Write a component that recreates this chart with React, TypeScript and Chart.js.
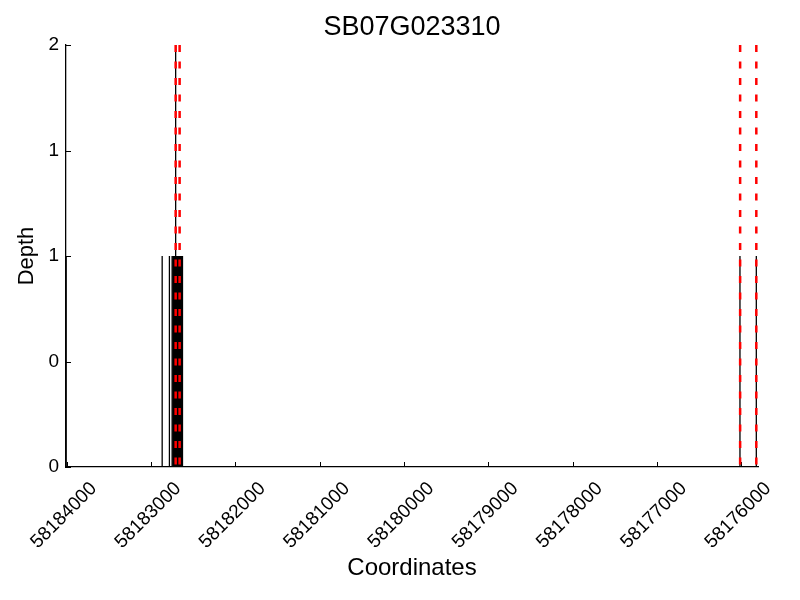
import React, { useEffect, useRef } from "react";
import { Chart, registerables } from "chart.js";

Chart.register(...registerables);

const TITLE = "SB07G023310";
const X_LABEL = "Coordinates";
const Y_LABEL = "Depth";

const X_MIN = 58175800;
const X_MAX = 58184010;
const xTickValues = [58176000, 58177000, 58178000, 58179000, 58180000, 58181000, 58182000, 58183000, 58184000];
const yTickValues = [0, 0.5, 1, 1.5, 2];
const yTickLabels = ["0", "0", "1", "1", "2"];

// read coverage bars (position, depth)
const coverageX = [
  58184008, 58182869, 58182783, 58182751,
  58182735, 58182725, 58182715, 58182709, 58182705, 58182695, 58182685,
  58182675, 58182665, 58182655, 58182645, 58182635, 58182628,
  58176014, 58175820,
];
const coverageDepth = [
  1, 1, 1, 1,
  1, 1, 1, 2, 1, 1, 1,
  1, 1, 1, 1, 1, 1,
  1, 1,
];

// red dashed marker positions
const markerX = [58182709, 58182662, 58176012, 58175820];

const FONT = "'Liberation Sans', Arial, Helvetica, sans-serif";

const inwardTicks = {
  id: "inwardTicks",
  beforeDatasetsDraw(chart: any) {
    const { ctx, chartArea, scales } = chart;
    const x = scales.x;
    const y = scales.y;
    ctx.save();
    ctx.strokeStyle = "#000";
    ctx.lineWidth = 1;
    ctx.beginPath();
    x.ticks.forEach((t: any) => {
      const px = Math.round(x.getPixelForValue(t.value)) + 0.5;
      ctx.moveTo(px, chartArea.bottom);
      ctx.lineTo(px, chartArea.bottom - 5);
    });
    y.ticks.forEach((t: any) => {
      const py = Math.round(y.getPixelForValue(t.value)) + 0.5;
      ctx.moveTo(chartArea.left, py);
      ctx.lineTo(chartArea.left + 5, py);
    });
    ctx.stroke();
    ctx.restore();
  },
};

export default function App() {
  const ref = useRef<HTMLCanvasElement | null>(null);

  useEffect(() => {
    if (!ref.current) return;
    Chart.defaults.font.family = FONT;
    Chart.defaults.color = "#000";

    const barPoints: any[] = [];
    coverageX.forEach((x, i) => {
      barPoints.push({ x, y: 0 }, { x, y: coverageDepth[i] }, { x, y: null });
    });
    const markerPoints: any[] = [];
    markerX.forEach((x) => {
      markerPoints.push({ x, y: 2 }, { x, y: 0 }, { x, y: null });
    });

    const chart = new Chart(ref.current, {
      type: "line",
      data: {
        datasets: [
          {
            label: "markers",
            data: markerPoints,
            borderColor: "#ff0000",
            borderWidth: 2.5,
            borderDash: [7, 9.5],
            pointRadius: 0,
            spanGaps: false,
            fill: false,
          },
          {
            label: "depth",
            data: barPoints,
            borderColor: "#000000",
            borderWidth: 1.3,
            pointRadius: 0,
            spanGaps: false,
            fill: false,
          },
        ],
      },
      options: {
        responsive: false,
        animation: false,
        events: [],
        layout: { padding: { left: 0, right: 34, top: 0, bottom: 0 } },
        plugins: {
          legend: { display: false },
          tooltip: { enabled: false },
          title: {
            display: true,
            fullSize: false,
            text: TITLE,
            color: "#000",
            font: { family: FONT, size: 27, weight: "normal" },
            padding: { top: 3, bottom: 1.6 },
          },
        },
        scales: {
          x: {
            type: "linear",
            reverse: true,
            min: X_MIN,
            max: X_MAX,
            grid: { display: false, drawTicks: false },
            border: { display: true, color: "#000", width: 1.3 },
            afterBuildTicks: (scale: any) => {
              scale.ticks = xTickValues.map((v) => ({ value: v }));
            },
            afterFit: (scale: any) => {
              scale.height = 125;
            },
            ticks: {
              autoSkip: false,
              minRotation: 45,
              maxRotation: 45,
              padding: 10.5,
              labelOffset: 27,
              color: "#000",
              font: { family: FONT, size: 19 },
              callback: (v: any) => String(v),
            },
            title: {
              display: true,
              text: X_LABEL,
              color: "#000",
              font: { family: FONT, size: 24 },
              padding: { top: 0, bottom: 9.6 },
            },
          },
          y: {
            type: "linear",
            min: 0,
            max: 2,
            grid: { display: false, drawTicks: false },
            border: { display: true, color: "#000", width: 1.3 },
            afterBuildTicks: (scale: any) => {
              scale.ticks = yTickValues.map((v) => ({ value: v }));
            },
            afterFit: (scale: any) => {
              scale.width = 58;
            },
            ticks: {
              padding: 7,
              color: "#000",
              font: { family: FONT, size: 19 },
              callback: (_v: any, i: number) => yTickLabels[i],
            },
            title: {
              display: true,
              text: Y_LABEL,
              color: "#000",
              font: { family: FONT, size: 22 },
              padding: { top: 6, bottom: 0 },
            },
          },
        },
      },
      plugins: [inwardTicks],
    } as any);

    return () => chart.destroy();
  }, []);

  return (
    <div style={{ width: 784, height: 584 }}>
      <canvas ref={ref} width={784} height={584} style={{ display: "block" }} />
    </div>
  );
}
